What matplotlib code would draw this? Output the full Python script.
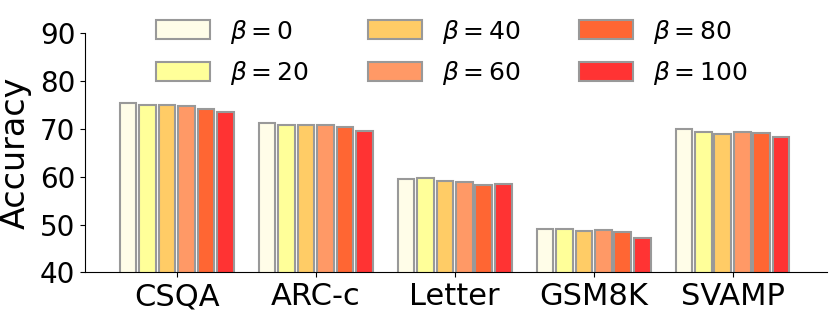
import matplotlib
matplotlib.use('Agg')
import matplotlib.pyplot as plt
import numpy as np

# datos
datasets = ['CSQA', 'ARC-c', 'Letter', 'GSM8K', 'SVAMP']
betas = [0, 20, 40, 60, 80, 100]
acc_b0 = [75.5, 71.2, 59.5, 49.0, 70.0]
acc_b20 = [74.9, 70.8, 59.7, 49.1, 69.4]
acc_b40 = [75.1, 70.9, 59.2, 48.7, 68.9]
acc_b60 = [74.8, 70.8, 58.8, 48.85, 69.35]
acc_b80 = [74.2, 70.4, 58.3, 48.4, 69.1]
acc_b100 = [73.5, 69.6, 58.4, 47.2, 68.4]
series = [acc_b0, acc_b20, acc_b40, acc_b60, acc_b80, acc_b100]

colores = ['#FFFDE8', '#FFFF99', '#FFCC66', '#FF9966', '#FF6633', '#FF3333']

fig = plt.figure(figsize=(8.3, 3.18), dpi=100)
ax = fig.add_axes([0.1024, 0.1437, 0.8940, 0.7516])

x = np.arange(len(datasets))
ancho = 0.12
paso = 0.14
for i, (vals, b) in enumerate(zip(series, betas)):
    offset = (i - 2.5) * paso
    ax.bar(x + offset, vals, width=ancho, color=colores[i], edgecolor='#999999',
           linewidth=1.5, label=r'$\beta=%d$' % b)

ax.set_ylim(40, 90)
ax.set_xlim(-0.66, 4.68)
ax.set_yticks([40, 50, 60, 70, 80, 90])
ax.set_xticks(x)
ax.set_xticklabels(datasets, fontsize=22)
ax.tick_params(axis='y', labelsize=20)
ax.set_ylabel('Accuracy', fontsize=24, labelpad=6)
ax.spines['top'].set_visible(False)
ax.spines['right'].set_visible(False)

ax.legend(ncol=3, loc='upper center', bbox_to_anchor=(0.4946, 1.16), frameon=False,
          fontsize=18, handlelength=2.16, handleheight=0.8, columnspacing=2.36,
          labelspacing=0.55)

fig.savefig('out.png', dpi=100)
